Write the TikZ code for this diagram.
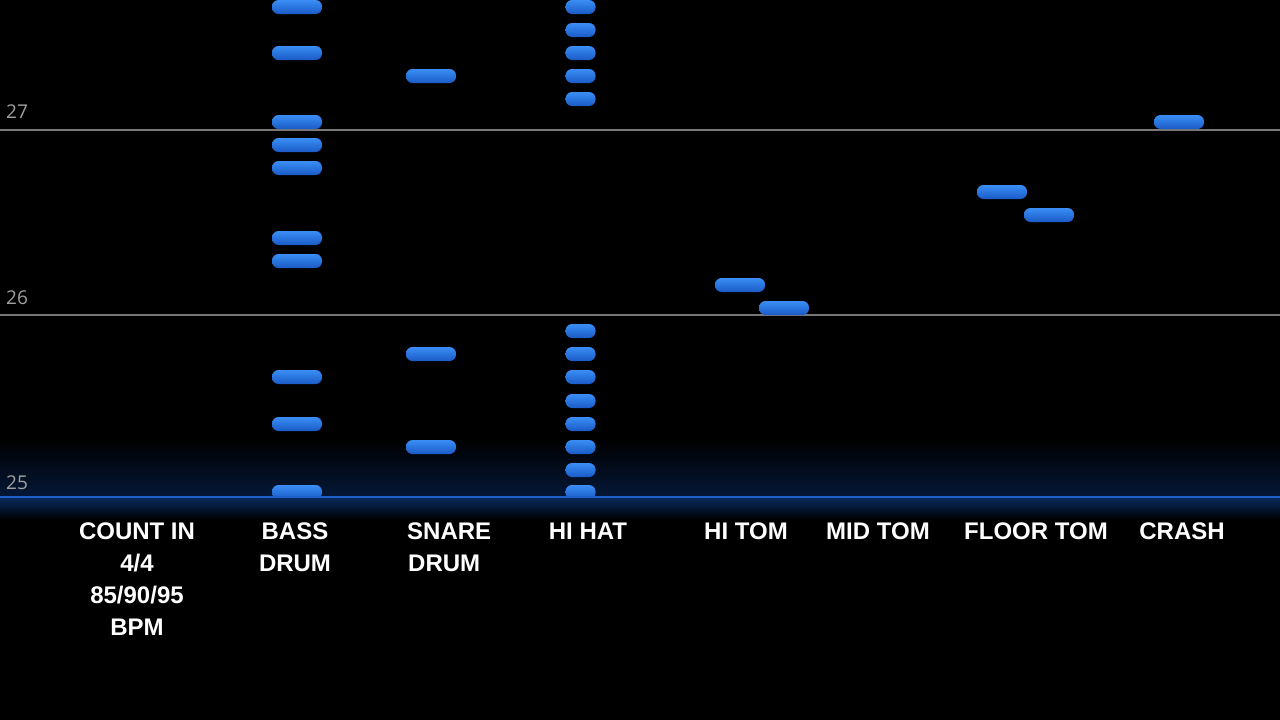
\documentclass[tikz,border=0pt]{standalone}
\usepackage{fontspec}
\setmainfont{Liberation Sans}
\newfontfamily\numfont{Open Sans}
\begin{document}
\begin{tikzpicture}[x=1pt,y=-1pt,
  notebox/.style={rounded corners=6.5pt, inner sep=0pt, minimum height=14pt, minimum width=50pt,
    top color={rgb,255:red,58;green,142;blue,245}, middle color={rgb,255:red,42;green,124;blue,234},
    bottom color={rgb,255:red,26;green,90;blue,198}},
  hatbox/.style={notebox, minimum width=30pt},
  lab/.style={anchor=base, text=white, font=\fontsize{24}{32}\selectfont\bfseries, inner sep=0pt},
  numlab/.style={anchor=base west, text={rgb,255:red,160;green,160;blue,160}, font=\numfont\fontsize{19}{22}\selectfont, inner sep=0pt},
  gridline/.style={draw={rgb,255:red,120;green,120;blue,120}, line width=1.2pt}]
\useasboundingbox (0,0) rectangle (1280,720);
\fill[black] (0,0) rectangle (1280,720);
% glow
\shade[top color=black, bottom color={rgb,255:red,5;green,24;blue,56}] (0,440) rectangle (1280,497);
\shade[top color={rgb,255:red,10;green,42;blue,95}, bottom color=black] (0,497) rectangle (1280,520);
% grid lines
\draw[gridline] (0,130) -- (1280,130);
\draw[gridline] (0,315) -- (1280,315);
% numbers
\node[numlab] (n27) at (6,118) {27};
\node[numlab] (n26) at (6,304) {26};
\node[numlab] (n25) at (6,489) {25};
% notes
\begin{scope}
\clip (0,0) rectangle (1280,497);
% bass drum
\foreach \y [count=\i] in {7,53,122,145,168,238,261,377,424,492}
  \node[notebox] (bd\i) at (297,\y) {};
% snare
\foreach \y [count=\i] in {76,354,447}
  \node[notebox] (sd\i) at (431,\y) {};
% hi hat
\foreach \y [count=\i] in {7,30,53,76,99,331,354,377,401,424,447,470,492}
  \node[hatbox] (hh\i) at (580.5,\y) {};
% toms and crash
\node[notebox] (ht1) at (740,285) {};
\node[notebox] (ht2) at (784,308) {};
\node[notebox] (ft1) at (1002,192) {};
\node[notebox] (ft2) at (1049,215) {};
\node[notebox] (cr1) at (1179,122) {};
\end{scope}
% glow line
\draw[draw={rgb,255:red,28;green,96;blue,200}, line width=2pt] (0,497) -- (1280,497);
% labels
\node[lab] (c1) at (137,539) {COUNT IN};
\node[lab] (c2) at (137,571) {4/4};
\node[lab] (c3) at (137,603) {85/90/95};
\node[lab] (c4) at (137,635) {BPM};
\node[lab] (b1) at (295,539) {BASS};
\node[lab] (b2) at (295,571) {DRUM};
\node[lab, anchor=base west] (s1) at (407,539) {SNARE};
\node[lab, anchor=base west] (s2) at (408,571) {DRUM};
\node[lab] (hh) at (588,539) {HI HAT};
\node[lab] (hit) at (746,539) {HI TOM};
\node[lab] (mit) at (878,539) {MID TOM};
\node[lab] (flt) at (1036,539) {FLOOR TOM};
\node[lab] (cra) at (1182,539) {CRASH};
\end{tikzpicture}
\end{document}
